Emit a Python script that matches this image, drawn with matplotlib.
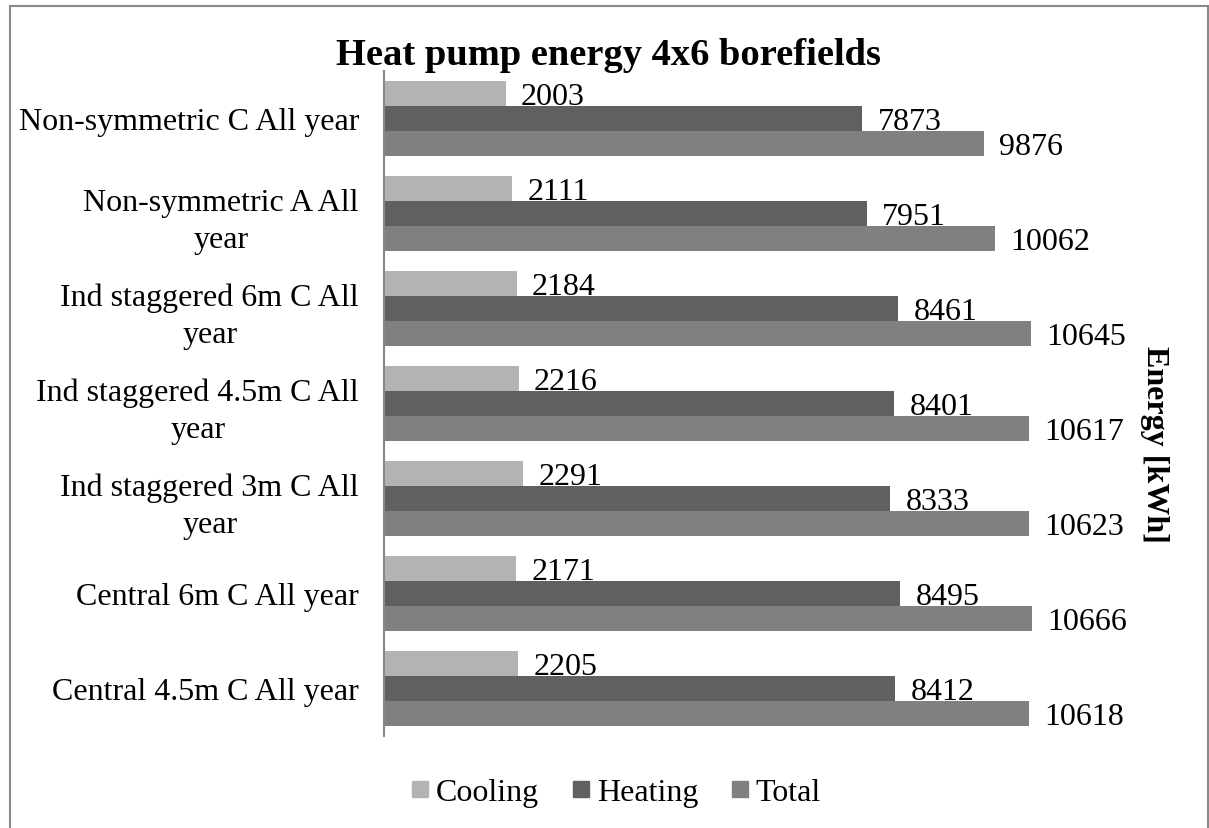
import numpy as np
import matplotlib.pyplot as plt
from matplotlib.lines import Line2D
from matplotlib.patches import Rectangle

plt.rcParams['font.family'] = ['Liberation Serif', 'DejaVu Serif']

categories = [
    "Non-symmetric C All year",
    "Non-symmetric A All\nyear",
    "Ind staggered 6m C All\nyear",
    "Ind staggered 4.5m C All\nyear",
    "Ind staggered 3m C All\nyear",
    "Central 6m C All year",
    "Central 4.5m C All year",
]
cooling = [2003, 2111, 2184, 2216, 2291, 2171, 2205]
heating = [7873, 7951, 8461, 8401, 8333, 8495, 8412]
total = [9876, 10062, 10645, 10617, 10623, 10666, 10618]

series = [("Cooling", cooling, "#b3b3b3"),
          ("Heating", heating, "#606060"),
          ("Total", total, "#808080")]

fig = plt.figure(figsize=(12.09, 8.29), dpi=100)
ax = fig.add_axes([0.3176, 0.111, 0.603, 0.8022])

y = np.arange(len(categories))
h = 0.263
for i, (name, vals, col) in enumerate(series):
    bars = ax.barh(y + (i - 1) * h, vals, height=h, color=col, label=name)
    labels = ax.bar_label(bars, fmt="%d", padding=11, fontsize=23)
    for t in labels:
        t.set_verticalalignment("center_baseline")

ax.set_xlim(0, 12000)
ax.set_ylim(len(categories) - 0.5, -0.5)
ax.set_yticks(y)
ax.set_yticklabels(categories, fontsize=23)
for lab in ax.get_yticklabels():
    lab.set_multialignment("center")
    lab.set_linespacing(1.35)
ax.tick_params(axis="y", length=0, pad=18)
ax.set_xticks([])
for s in ["top", "right", "bottom"]:
    ax.spines[s].set_visible(False)
ax.spines["left"].set_color("#878787")
ax.spines["left"].set_linewidth(1.5)

fig.text(0.503, 0.9216, "Heat pump energy 4x6 borefields", ha="center",
         va="baseline", fontsize=27.7, fontweight="bold")
fig.text(0.955, 0.4644, "Energy [kWh]", ha="center", va="center",
         rotation=270, fontsize=23, fontweight="bold")

handles = [Line2D([], [], marker="s", linestyle="none", markersize=12,
                  markerfacecolor=c, markeredgecolor=c) for _, _, c in series]
fig.legend(handles, [n for n, _, _ in series], loc="center",
           bbox_to_anchor=(0.508, 0.043), ncol=3, frameon=False, fontsize=23,
           handletextpad=0.1, columnspacing=0.9, handlelength=0.8)

# outer chart frame
fig.patches.append(Rectangle((10 / 1209, -0.05), 1198 / 1209, 1.05 - 7 / 829,
                             transform=fig.transFigure, fill=False,
                             edgecolor="#888888", linewidth=1.5))

fig.savefig("out.png", dpi=100)
